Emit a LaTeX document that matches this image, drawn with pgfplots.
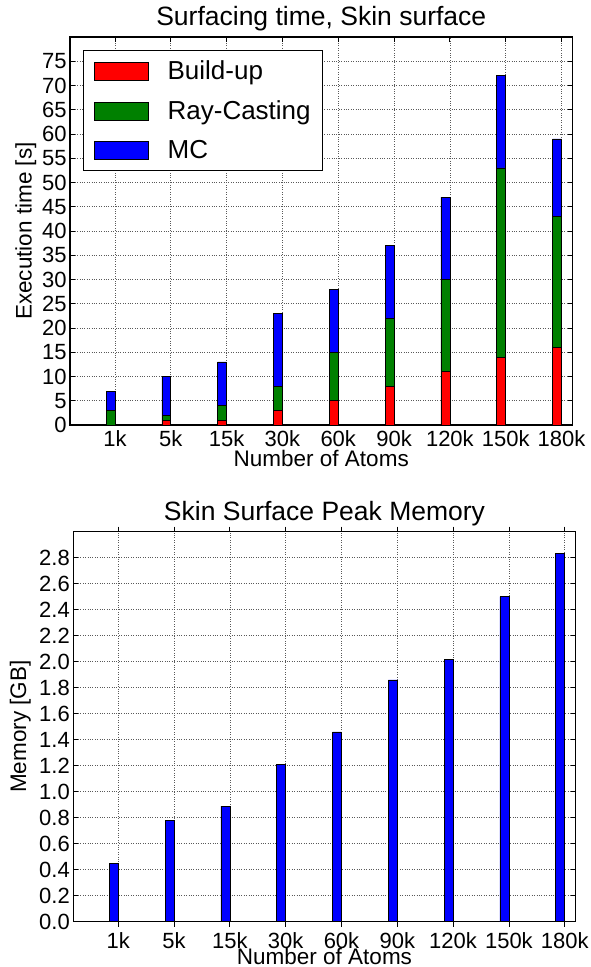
\documentclass[border=0pt]{standalone}
\usepackage{fontspec}
\setmainfont{Liberation Sans}
\usepackage{pgfplots}
\pgfplotsset{compat=1.18}

\definecolor{mplred}{RGB}{255,0,0}
\definecolor{mplgreen}{RGB}{0,128,0}
\definecolor{mplblue}{RGB}{0,0,255}

\pgfplotsset{
  mpl/.style={
    scale only axis,
    enlargelimits=false,
    axis line style={line width=1.1pt},
    tick align=inside,
    major tick length=5pt,
    tick style={black, line width=0.8pt},
    grid=major,
    grid style={dotted, black!65, line width=0.7pt},
    xmin=-0.806, xmax=8.197,
    xtick={0,...,8},
    xticklabels={1k,5k,15k,30k,60k,90k,120k,150k,180k},
    tick label style={font=\fontsize{22}{22}\selectfont},
    /pgf/number format/assume math mode=true,
    xticklabel style={anchor=north, inner sep=0pt, yshift=-5.8pt},
    yticklabel style={anchor=east, inner sep=0pt, xshift=-3.3pt},
    label style={font=\fontsize{22.5}{22.5}\selectfont},
    xlabel={Number of Atoms},
    xlabel style={at={(axis description cs:0.5,0)}, anchor=base, inner sep=0pt, yshift=-41pt},
    title style={font=\fontsize{26.5}{26.5}\selectfont, at={(axis description cs:0.5,1)}, anchor=base, yshift=5.5pt},
  },
  barstyle/.style={draw=black, line width=0.7pt},
}

\begin{document}
\begin{tikzpicture}
\useasboundingbox (0,0) rectangle (591pt,-967pt);

% Execution time per stage, stacked
\begin{axis}[mpl,
  at={(70pt,-425pt)}, anchor=south west,
  width=502.5pt, height=388pt,
  title={Surfacing time, Skin surface},
  ylabel={Execution time [s]},
  ylabel style={at={(axis description cs:-0.0762,0.5)}, anchor=base},
  ymin=0, ymax=80,
  ytick={0,5,...,75},
  ybar stacked, bar width=0.16, bar shift=-0.08,
  legend cell align=left,
  legend image code/.code={\draw[#1, draw=black, line width=0.8pt] (0pt,-9pt) rectangle (54pt,9pt);},
  legend style={at={(axis description cs:0.0265,0.9665)}, anchor=north west,
    draw=black, line width=1pt, fill=white,
    font=\fontsize{26}{26}\selectfont,
    inner xsep=10pt, inner ysep=8.5pt, row sep=15.5pt, column sep=17pt},
]
\addplot[barstyle, fill=mplred] coordinates
  {(0,0) (1,1) (2,1) (3,3) (4,5) (5,8) (6,11) (7,14) (8,16)};
\addplot[barstyle, fill=mplgreen] coordinates
  {(0,3) (1,1) (2,3) (3,5) (4,10) (5,14) (6,19) (7,39) (8,27)};
\addplot[barstyle, fill=mplblue] coordinates
  {(0,4) (1,8) (2,9) (3,15) (4,13) (5,15) (6,17) (7,19) (8,16)};
\legend{Build-up, Ray-Casting, MC}
\end{axis}

% Peak memory
\begin{axis}[mpl,
  at={(73.3pt,-921.7pt)}, anchor=south west,
  width=502.4pt, height=390pt,
  title={Skin Surface Peak Memory},
  ylabel={Memory [GB]},
  ylabel style={at={(axis description cs:-0.0941,0.5)}, anchor=base},
  xticklabel style={yshift=0.6pt},
  xlabel style={yshift=-1.5pt},
  ymin=0, ymax=3.0,
  ytick={0,0.2,...,2.81},
  yticklabel style={/pgf/number format/.cd, fixed, fixed zerofill, precision=1},
  ybar, bar width=0.16, bar shift=-0.08,
]
\addplot[barstyle, fill=mplblue] coordinates
  {(0,0.45) (1,0.78) (2,0.89) (3,1.21) (4,1.46) (5,1.86) (6,2.02) (7,2.50) (8,2.83)};
\end{axis}
\end{tikzpicture}
\end{document}
